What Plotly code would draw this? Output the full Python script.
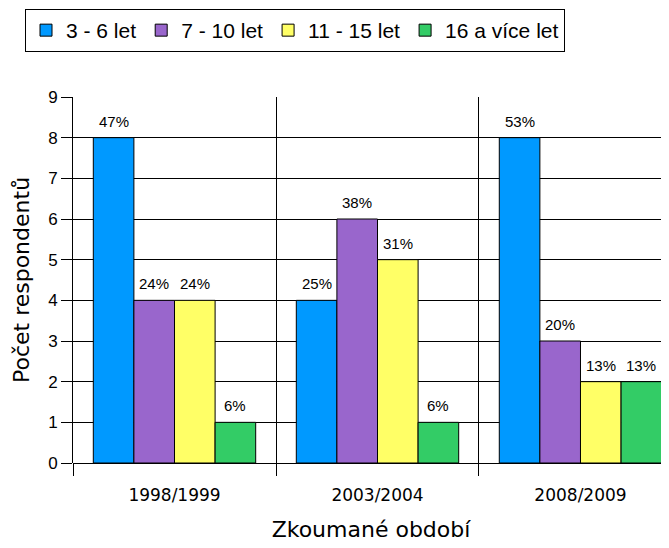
import plotly.graph_objects as go

periods = ["1998/1999", "2003/2004", "2008/2009"]
groups = ["3 - 6 let", "7 - 10 let", "11 - 15 let", "16 a více let"]
counts = [
    [8, 4, 8],   # 3 - 6 let
    [4, 6, 3],   # 7 - 10 let
    [4, 5, 2],   # 11 - 15 let
    [1, 1, 2],   # 16 a více let
]
percents = [
    ["47%", "25%", "53%"],
    ["24%", "38%", "20%"],
    ["24%", "31%", "13%"],
    ["6%", "6%", "13%"],
]
colors = ["#0099FF", "#9966CC", "#FFFF66", "#33CC66"]

bargap = 0.2
bw = (1 - bargap) / len(groups)

fig = go.Figure()
for k, (name, vals, txt, col) in enumerate(zip(groups, counts, percents, colors)):
    fig.add_trace(go.Bar(
        x=periods, y=vals, name=name,
        marker=dict(color=col, line=dict(color="black", width=1)),
    ))
    # percent labels above bars
    for i, (v, t) in enumerate(zip(vals, txt)):
        fig.add_annotation(
            x=i + (k - (len(groups) - 1) / 2) * bw, y=v, text=t,
            showarrow=False, yanchor="bottom", yshift=6,
            font=dict(size=15, color="black"),
        )

fig.update_layout(
    width=669, height=548,
    margin=dict(l=65, r=8, t=89, b=93, autoexpand=False),
    barmode="group", bargap=bargap, bargroupgap=0,
    plot_bgcolor="white", paper_bgcolor="white",
    font=dict(family='"Liberation Sans", Arial, sans-serif', color="black"),
    legend=dict(
        orientation="h", xref="container", yref="container",
        x=17 / 669, y=1 - 1 / 548, xanchor="left", yanchor="top",
        bordercolor="black", borderwidth=1, font=dict(size=21),
        itemwidth=30, traceorder="normal",
    ),
)
fig.update_xaxes(
    range=[-0.5, 2.436], tickson="boundaries", ticks="outside", ticklen=12,
    tickcolor="black", showgrid=True, gridcolor="black", gridwidth=1,
    tickfont=dict(size=17, family="DejaVu Sans"), ticklabelstandoff=20,
    title=dict(text="Zkoumané období", font=dict(size=22, family="DejaVu Sans"), standoff=17),
)
fig.update_yaxes(
    range=[0, 9], dtick=1, ticks="outside", ticklen=11, tickcolor="black",
    showline=True, linecolor="black", showgrid=True, gridcolor="black", gridwidth=1,
    zeroline=True, zerolinecolor="black", zerolinewidth=1,
    tickfont=dict(size=17),
    title=dict(text="Počet respondentů", font=dict(size=22, family="DejaVu Sans"), standoff=12),
)

fig.write_html("out.html")
